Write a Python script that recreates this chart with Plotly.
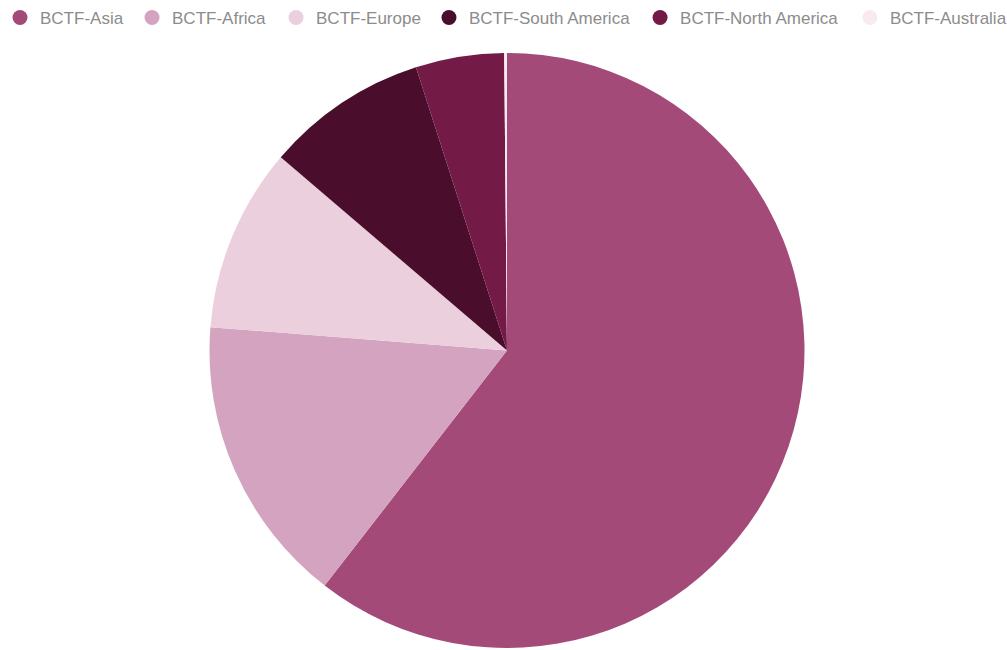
import plotly.graph_objects as go

regions = ["BCTF-Asia", "BCTF-Africa", "BCTF-Europe", "BCTF-South America",
           "BCTF-North America", "BCTF-Australia"]
shares = [60.5, 15.75, 10.0, 8.8, 4.8, 0.15]
colors = ["#A34A78", "#D4A3BF", "#EBCFDD", "#4A0E2C", "#731A47", "#F8EAF1"]

# left edge of each legend entry, as a fraction of the page width
legend_x = [0.0, 0.1311, 0.2741, 0.4260, 0.6356, 0.8440]

fig = go.Figure()

fig.add_trace(go.Pie(
    labels=regions,
    values=shares,
    marker=dict(colors=colors, line=dict(width=0)),
    sort=False,
    direction="clockwise",
    rotation=0,
    textinfo="none",
    hoverinfo="label+percent",
    showlegend=False,
    domain=dict(x=[0, 1], y=[0, 1]),
))

legend_font = dict(family="Liberation Sans, Arial, sans-serif", size=17, color="#8C8C8C")
layout_legends = {}
for i, (name, col) in enumerate(zip(regions, colors)):
    key = "legend" if i == 0 else f"legend{i + 1}"
    fig.add_trace(go.Scatter(
        x=[None], y=[None], mode="markers", name=name,
        marker=dict(symbol="circle", size=15, color=col),
        hoverinfo="skip",
        legend=key,
    ))
    layout_legends[key] = dict(
        orientation="h",
        xref="container", yref="container",
        x=legend_x[i], y=1.0, xanchor="left", yanchor="top",
        font=legend_font,
        bgcolor="rgba(0,0,0,0)",
    )

fig.update_layout(
    width=1007,
    height=650,
    margin=dict(l=7, r=0, t=53, b=2),
    paper_bgcolor="white",
    plot_bgcolor="white",
    xaxis=dict(visible=False),
    yaxis=dict(visible=False),
    **layout_legends,
)

fig.write_html("out.html")
